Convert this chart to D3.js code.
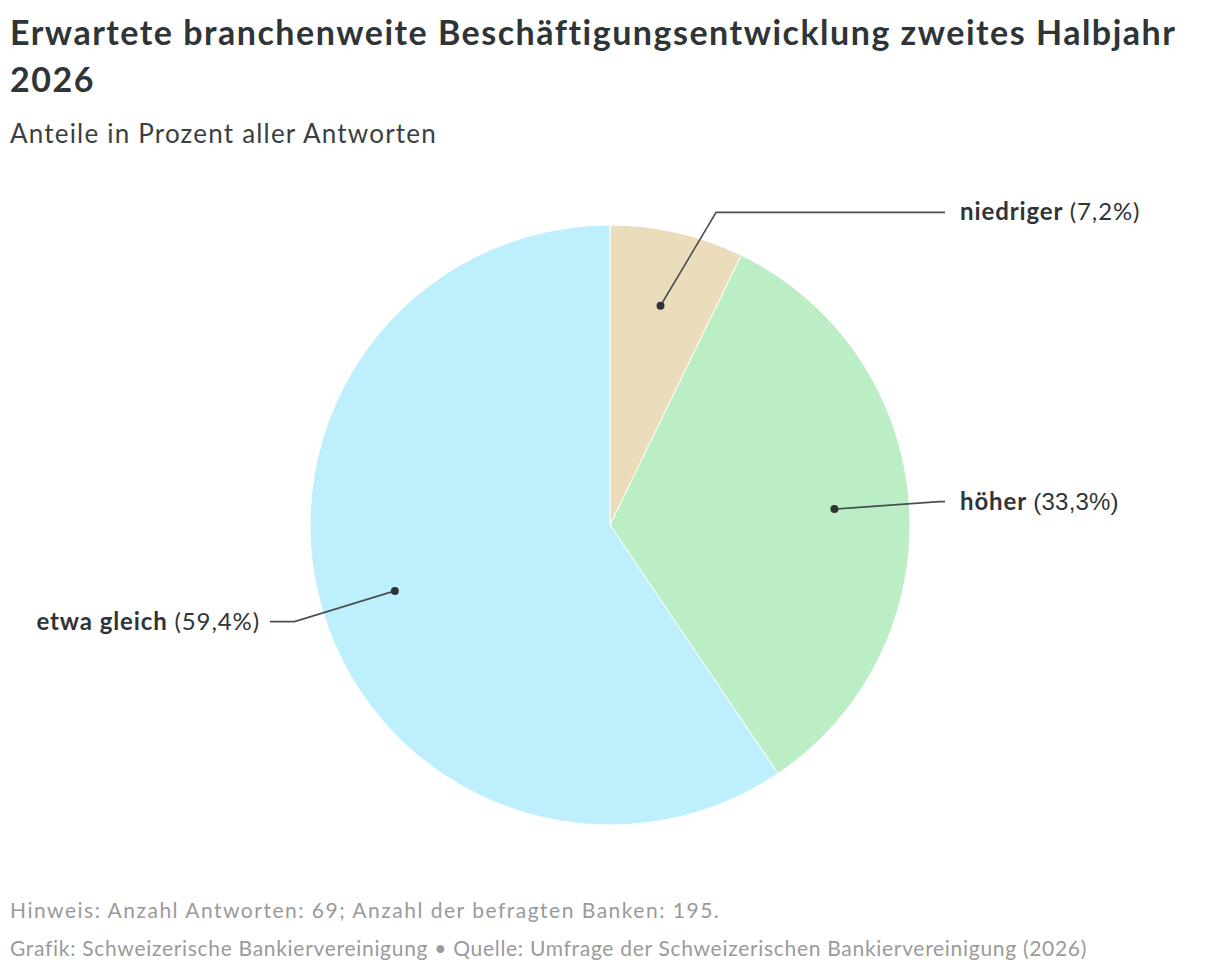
<!DOCTYPE html>
<html lang="de">
<head>
<meta charset="utf-8">
<script src="https://cdn.jsdelivr.net/npm/d3@7.9.0/dist/d3.min.js"></script>
<style>
  html, body { margin: 0; padding: 0; background: #fff; }
  body { width: 1220px; height: 976px; overflow: hidden; font-family: Lato, "Noto Sans", sans-serif; color: #2f3437; }
  svg { display: block; }
</style>
</head>
<body>
<svg id="chart" width="1220" height="976"></svg>
<script>
// data
const categories = ['niedriger', 'höher', 'etwa gleich'];
const shares = [7.2, 33.3, 59.4];
const colorList = ['#ebdcbc', '#bbeec5', '#bdeffd'];

const titleLines = ['Erwartete branchenweite Beschäftigungsentwicklung zweites Halbjahr', '2026'];
const subtitle = 'Anteile in Prozent aller Antworten';
const note = 'Hinweis: Anzahl Antworten: 69; Anzahl der befragten Banken: 195.';
const source = 'Grafik: Schweizerische Bankiervereinigung • Quelle: Umfrage der Schweizerischen Bankiervereinigung (2026)';

const data = categories.map((c, i) => ({ label: c, value: shares[i] }));

const svg = d3.select('#chart');
const textColor = '#2f3437';

// header
svg.selectAll('text.title')
  .data(titleLines)
  .join('text')
  .attr('class', 'title')
  .attr('x', 10)
  .attr('y', (d, i) => 45 + i * 47)
  .attr('font-size', 34)
  .attr('letter-spacing', 1.5)
  .attr('font-weight', 700)
  .attr('fill', textColor)
  .text((d) => d);

svg.append('text')
  .attr('x', 10)
  .attr('y', 143)
  .attr('font-size', 26)
  .attr('letter-spacing', 1.2)
  .attr('fill', '#3a3f42')
  .text(subtitle);

// pie
const cx = 610, cy = 525, radius = 300;
const colors = d3.scaleOrdinal().domain(categories).range(colorList);

const pie = d3.pie().sort(null).value((d) => d.value);
const arcGenerator = d3.arc().innerRadius(0).outerRadius(radius);
const dotArc = d3.arc().innerRadius(radius * 0.75).outerRadius(radius * 0.75);
const elbowArc = d3.arc().innerRadius(radius * 1.1).outerRadius(radius * 1.1);

const g = svg.append('g').attr('transform', `translate(${cx},${cy})`);
const arcs = pie(data);

g.selectAll('path')
  .data(arcs)
  .join('path')
  .attr('d', arcGenerator)
  .attr('fill', (d) => colors(d.data.label))
  .attr('stroke', '#fff')
  .attr('stroke-width', 1);

// labels with leader lines
const labelGap = 15;
const rightX = 335, leftX = -340;

function leader(d) {
  const dot = dotArc.centroid(d);
  const elbow = elbowArc.centroid(d);
  const mid = (d.startAngle + d.endAngle) / 2;
  const right = mid < Math.PI;
  // the small top slice gets a flatter, more slanted leader
  if (Math.abs(elbow[0]) < 120) {
    elbow[0] += right ? 32 : -32;
    elbow[1] += 9;
  }
  const endX = right ? rightX : leftX;
  return { dot, elbow, end: [endX, elbow[1]], right };
}

const leaders = arcs.map((d) => ({ d, ...leader(d) }));

g.selectAll('polyline')
  .data(leaders)
  .join('polyline')
  .attr('points', (l) => [l.dot, l.elbow, l.end].map((p) => p.join(',')).join(' '))
  .attr('fill', 'none')
  .attr('stroke', '#4a4f52')
  .attr('stroke-width', 1.6);

g.selectAll('circle')
  .data(leaders)
  .join('circle')
  .attr('cx', (l) => l.dot[0])
  .attr('cy', (l) => l.dot[1])
  .attr('r', 4)
  .attr('fill', '#2f3437');

const fmt = (v) => `(${v.toFixed(1).replace('.', ',')}%)`;

const labels = g.selectAll('text.lbl')
  .data(leaders)
  .join('text')
  .attr('class', 'lbl')
  .attr('x', (l) => l.end[0] + (l.right ? labelGap : -10))
  .attr('y', (l) => l.end[1] + 8)
  .attr('text-anchor', (l) => (l.right ? 'start' : 'end'))
  .attr('font-size', 24)
  .attr('letter-spacing', 0.9)
  .attr('fill', textColor);

labels.append('tspan')
  .attr('font-weight', 700)
  .text((l) => l.d.data.label + ' ');

labels.append('tspan')
  .attr('font-weight', 400)
  .attr('font-family', (l) => (l.d.data.label === 'höher' ? '"Liberation Sans", Arial, sans-serif' : null))
  .attr('letter-spacing', (l) => (l.d.data.label === 'höher' ? 0.2 : null))
  .text((l) => fmt(l.d.data.value));

// footer
svg.selectAll('text.foot')
  .data([note, source])
  .join('text')
  .attr('class', 'foot')
  .attr('x', 10)
  .attr('y', (d, i) => 918 + i * 38)
  .attr('font-size', 21)
  .attr('letter-spacing', (d, i) => (i === 0 ? 1.5 : 0.7))
  .attr('fill', '#9a9a9a')
  .text((d) => d);
</script>
</body>
</html>
